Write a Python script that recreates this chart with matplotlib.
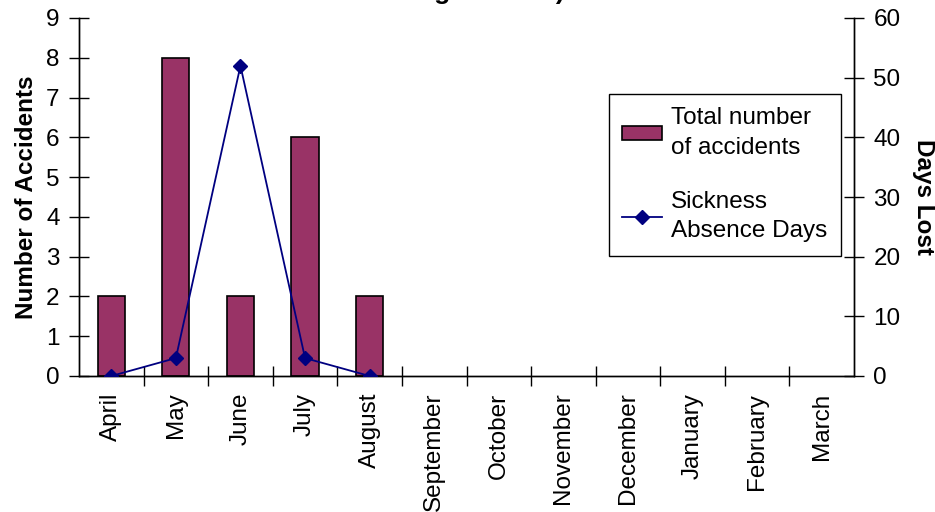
import numpy as np
import matplotlib
matplotlib.use("Agg")
import matplotlib.pyplot as plt

plt.rcParams['font.family'] = ['Liberation Sans', 'DejaVu Sans']

months = ["April", "May", "June", "July", "August", "September", "October",
          "November", "December", "January", "February", "March"]
accidents = [2, 8, 2, 6, 2]
days_lost = [0, 3, 52, 3, 0]

bar_col = "#993366"
line_col = "#000080"
fs = 17.5

fig = plt.figure(figsize=(9.35, 5.12), dpi=100)
ax1 = fig.add_axes([79/935, 1-376/512, 775/935, 358/512])
ax2 = ax1.twinx()

x = np.arange(len(months))
ax1.bar(x[:len(accidents)], accidents, width=0.42, color=bar_col,
        edgecolor="black", linewidth=1.2, label="Total number\nof accidents", zorder=2)
ax2.plot(x[:len(days_lost)], days_lost, color=line_col, marker="D", markersize=7,
         linewidth=1.3, label="Sickness\nAbsence Days", zorder=3)

ax1.set_xlim(-0.5, len(months) - 0.5)
ax1.set_ylim(0, 9)
ax2.set_ylim(0, 60)
ax1.set_yticks(range(0, 10))
ax2.set_yticks(range(0, 61, 10))

ax1.set_xticks(x)
ax1.set_xticklabels(months, rotation=90, fontsize=fs)
ax1.set_xticks(np.arange(0.5, len(months) - 0.5), minor=True)
ax1.tick_params(axis="x", which="major", length=0, pad=12)
ax1.tick_params(axis="x", which="minor", direction="inout", length=14, width=1)
ax1.tick_params(axis="y", direction="inout", length=14, width=1, labelsize=fs, pad=7)
ax2.tick_params(axis="y", direction="inout", length=14, width=1, labelsize=fs, pad=7)

for a in (ax1, ax2):
    a.spines["top"].set_visible(False)
    for s in ("left", "right", "bottom"):
        a.spines[s].set_linewidth(1)

ax1.set_ylabel("Number of Accidents", fontsize=fs, fontweight="bold", labelpad=6)
ax2.set_ylabel("Days Lost", fontsize=fs, fontweight="bold", rotation=-90, labelpad=25)

h1, l1 = ax1.get_legend_handles_labels()
h2, l2 = ax2.get_legend_handles_labels()
leg = ax2.legend(h1 + h2, l1 + l2, loc="upper right",
                 bbox_to_anchor=(841/935, 1-94/512), bbox_transform=fig.transFigure,
                 fontsize=fs, frameon=True, fancybox=False, edgecolor="black",
                 framealpha=1, borderpad=0.55, labelspacing=1.3, handlelength=1.65,
                 handleheight=0.5, handletextpad=0.37, borderaxespad=0)
leg.get_frame().set_linewidth(1)
for t in leg.get_texts():
    t.set_linespacing(1.45)

# title sits mostly above the canvas, only its bottom edge shows
fig.text(482/935, 1+1/512, "Accidents and Sickness Absence (April 2007 -\nAugust 2007)",
         ha="center", va="baseline", fontsize=19, fontweight="bold")

fig.savefig("out.png", dpi=100)
